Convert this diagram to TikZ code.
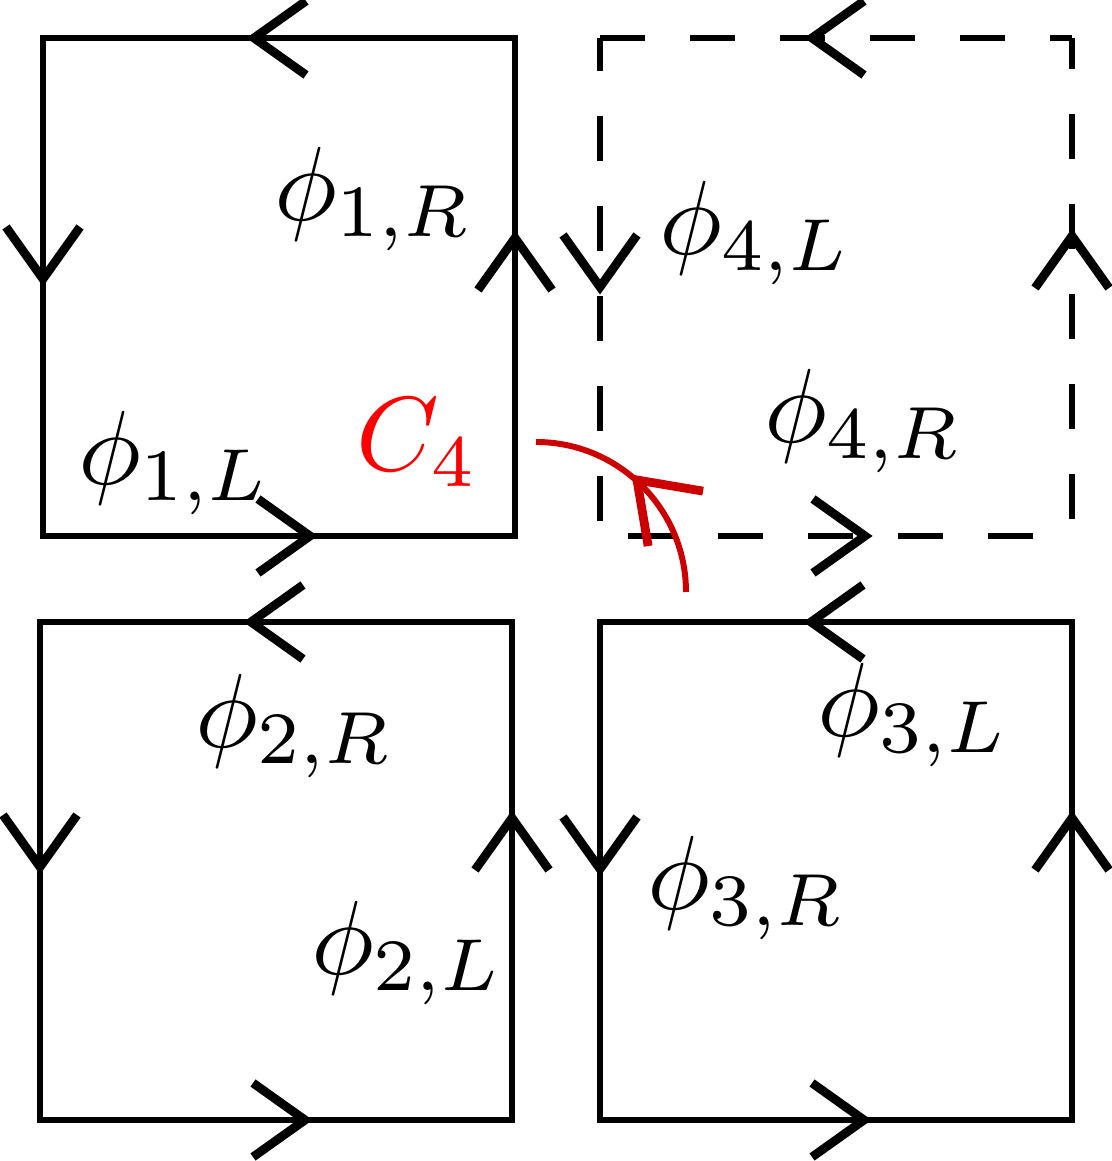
\documentclass[tikz,border=0pt]{standalone}
\usepackage{amsmath}
\usepackage{xcolor}
\usepackage{tikz}

\definecolor{arcred}{RGB}{204,0,0}

\begin{document}
\begin{tikzpicture}[
    plaq/.style={line width=1.45pt, line join=miter},
    dualplaq/.style={plaq, dash pattern=on 0.45cm off 0.45cm},
    chevline/.style={line width=2.5pt, line join=miter, miter limit=10},
    cut/.style={line width=1.7pt, draw=arcred},
    lbl/.style={anchor=base west, inner sep=0pt, scale=3},
    chev/.pic={\draw[chevline] (-0.52,0.37) -- (0,0) -- (-0.52,-0.37);}
]
\useasboundingbox (0,0) rectangle (11.11,11.61);

% Plaquette 1 (top left)
\coordinate (p1sw) at (0.43,6.25);
\coordinate (p1ne) at (5.15,11.23);
\draw[plaq] (p1sw) rectangle (p1ne);
\pic[rotate=180] at (2.54,11.23) {chev};
\pic[rotate=270] at (0.43,8.82) {chev};
\pic[rotate=90] at (5.15,9.23) {chev};
\pic at (3.10,6.25) {chev};

% Plaquette 4 (top right, dashed)
\coordinate (p4sw) at (6.00,6.25);
\coordinate (p4nw) at (6.00,11.23);
\coordinate (p4ne) at (10.72,11.23);
\coordinate (p4se) at (10.72,6.25);
\draw[dualplaq] (p4nw) -- (p4ne);
\draw[dualplaq, dash phase=0.14cm] (p4ne) -- (p4se);
\draw[dualplaq, dash phase=0.51cm] (p4se) -- (p4sw);
\draw[dualplaq, dash phase=0.12cm] (p4nw) -- (p4sw);
\pic[rotate=180] at (8.12,11.23) {chev};
\pic[rotate=270] at (6.00,8.74) {chev};
\pic[rotate=90] at (10.72,9.25) {chev};
\pic at (8.65,6.25) {chev};

% Plaquette 2 (bottom left)
\coordinate (p2sw) at (0.40,0.41);
\coordinate (p2ne) at (5.12,5.39);
\draw[plaq] (p2sw) rectangle (p2ne);
\pic[rotate=180] at (2.51,5.39) {chev};
\pic[rotate=270] at (0.40,2.94) {chev};
\pic[rotate=90] at (5.12,3.43) {chev};
\pic at (3.05,0.41) {chev};

% Plaquette 3 (bottom right)
\coordinate (p3sw) at (6.00,0.41);
\coordinate (p3ne) at (10.72,5.39);
\draw[plaq] (p3sw) rectangle (p3ne);
\pic[rotate=180] at (8.11,5.39) {chev};
\pic[rotate=270] at (6.00,2.92) {chev};
\pic[rotate=90] at (10.72,3.43) {chev};
\pic at (8.64,0.41) {chev};

% Red cut C_4
\coordinate (c4start) at (6.86,5.69);
\draw[cut] (c4start) arc[start angle=0, end angle=90, radius=1.5];
\pic[rotate=135, color=arcred, scale=1.05] at (6.37,6.81) {chev};

% Labels
\node[lbl] (phi1R) at (2.72,9.40) {$\phi_{1,R}$};
\node[lbl] (phi1L) at (0.76,6.76) {$\phi_{1,L}$};
\node[lbl, text=red] (c4) at (3.54,6.90) {$C_4$};
\node[lbl] (phi4L) at (6.57,9.06) {$\phi_{4,L}$};
\node[lbl] (phi4R) at (7.62,7.18) {$\phi_{4,R}$};
\node[lbl] (phi2R) at (1.93,4.13) {$\phi_{2,R}$};
\node[lbl] (phi2L) at (3.09,1.86) {$\phi_{2,L}$};
\node[lbl] (phi3L) at (8.15,4.24) {$\phi_{3,L}$};
\node[lbl] (phi3R) at (6.45,2.51) {$\phi_{3,R}$};

\end{tikzpicture}
\end{document}
